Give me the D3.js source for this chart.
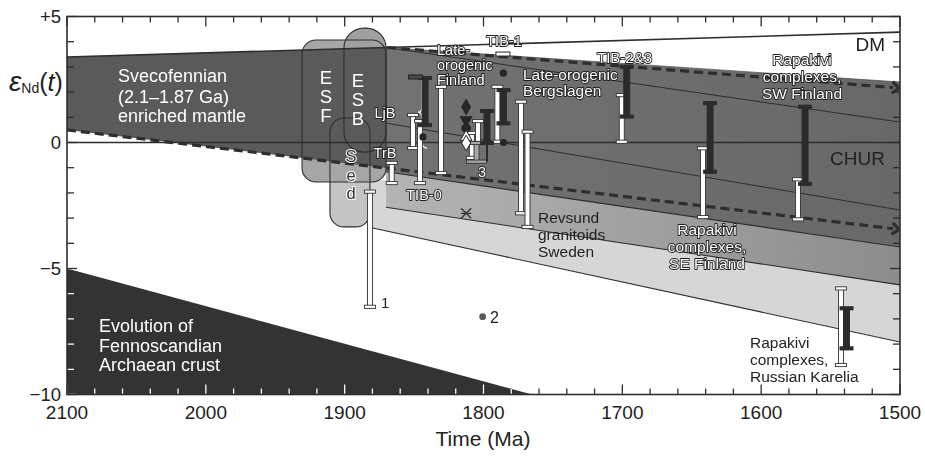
<!DOCTYPE html>
<html><head><meta charset="utf-8">
<script src="https://cdn.jsdelivr.net/npm/d3@7/dist/d3.min.js"></script>
<style>body{margin:0;background:#fff}svg{display:block;font-family:"Liberation Sans",Arial,Helvetica,sans-serif}</style>
</head><body><svg id="c" width="925" height="457"></svg>
<script>
// ---------- data (age in Ma, epsilon Nd) ----------
const xTickValues = [2100,2000,1900,1800,1700,1600,1500];
const xTickLabels = ["2100","2000","1900","1800","1700","1600","1500"];
const yTickValues = [5,0,-5,-10];
const yTickLabels = ["+5","0","\u22125","\u221210"];

const dmLine      = [[2100,3.39],[1500,4.38]];
const churLine    = [[2100,0],[1500,0]];
const upperDashed = [[1869.5,3.77],[1505,2.18]];
const lowerDashed = [[2100,0.50],[1505,-3.42]];
const thinLine1   = [[1870.2,3.77],[1500,0.81]];
const thinLine2   = [[1870.2,0.77],[1500,-2.68]];
const bandTop     = [[1870.2,3.77],[1500,2.40]];
const boundAB     = [[1870.2,-1.16],[1500,-4.15]];
const boundBC     = [[1870.2,-2.57],[1500,-5.65]];
const boundLow    = [[1883.2,-3.35],[1500,-7.92]];
const archaean    = [[2100,-5],[1765,-10],[2100,-10]];
const mantleBand  = [[2100,3.39],[1870.2,3.77],[1870.2,-1.01],[2100,0.50]];

const cylinders = [
  {name:"Sed", t0:1910.6, t1:1881.8, top:0.97, bot:-3.35},
  {name:"ESF", t0:1930.7, t1:1870.2, top:4.07, bot:-1.57},
  {name:"ESB", t0:1900.5, t1:1870.2, top:4.54, bot:-0.38}
];

const whiteBars = [
  {t:1881.8, lo:-6.52, hi:-1.95},
  {t:1866.1, lo:-1.61, hi:-0.81},
  {t:1850.8, lo:-0.22, hi:1.09},
  {t:1845.7, lo:-1.61, hi:0.85},
  {t:1830.6, lo:-1.21, hi:2.21},
  {t:1808.4, lo:-0.61, hi:0.38},
  {t:1804.0, lo:-0.02, hi:0.85},
  {t:1790.0, lo:0.03,  hi:2.21},
  {t:1773.0, lo:-2.81, hi:1.62},
  {t:1768.3, lo:-3.35, hi:0.43},
  {t:1700.4, lo:0.03,  hi:1.88},
  {t:1641.9, lo:-2.96, hi:-0.23},
  {t:1573.5, lo:-3.05, hi:-1.46},
  {t:1542.5, lo:-8.83, hi:-5.79}
];
const grayBars = [{t:1805.0, lo:-0.76, hi:-0.02}];
const blackBars = [
  {t:1842.1, lo:0.69,  hi:2.56},
  {t:1797.5, lo:-0.02, hi:1.25},
  {t:1785.6, lo:0.76,  hi:2.08},
  {t:1696.8, lo:1.03,  hi:3.01},
  {t:1636.8, lo:-1.16, hi:1.56},
  {t:1568.4, lo:-1.64, hi:1.42},
  {t:1538.5, lo:-8.17, hi:-6.58}
];
const thinBars = [{t:1797.5, lo:-0.76, hi:-0.02}];
const darkMarks  = [{t:1849.0, e:2.60}];
const whiteMarks = [{t:1786.0, e:3.51}];
const blackDots = [{t:1843.6, e:0.22},{t:1785.7, e:2.75},{t:1785.6, e:0.0}];
const grayDots  = [{t:1800.6, e:-6.91}];
const symbolStack = [
  {t:1812.5, e:1.41,  kind:"diamond",  filled:true},
  {t:1812.5, e:0.89,  kind:"down",     filled:true},
  {t:1812.5, e:0.57,  kind:"circle",   filled:true},
  {t:1812.5, e:0.22,  kind:"up",       filled:false},
  {t:1812.5, e:-0.02, kind:"diamond",  filled:false}
];
const crosses = [{t:1812.5, e:-2.81}];

// ---------- scales ----------
const svg = d3.select("#c");
const x = d3.scaleLinear().domain([2100,1500]).range([67,900]);
const y = d3.scaleLinear().domain([-10,5]).range([394.5,16.5]);
const line = d3.line().x(d=>x(d[0])).y(d=>y(d[1]));
const poly = pts => "M" + pts.map(d=>x(d[0])+","+y(d[1])).join("L") + "Z";

const defs = svg.append("defs");
const gA = defs.append("linearGradient").attr("id","gA").attr("gradientUnits","userSpaceOnUse")
  .attr("x1",x(1870)).attr("x2",x(1500)).attr("y1",0).attr("y2",0);
gA.append("stop").attr("offset",0).attr("stop-color","#727272");
gA.append("stop").attr("offset",1).attr("stop-color","#686868");
const gB = defs.append("linearGradient").attr("id","gB").attr("gradientUnits","userSpaceOnUse")
  .attr("x1",x(1870)).attr("x2",x(1500)).attr("y1",0).attr("y2",0);
gB.append("stop").attr("offset",0).attr("stop-color","#b4b4b4");
gB.append("stop").attr("offset",1).attr("stop-color","#8c8c8c");
defs.append("clipPath").attr("id","archClip").append("path").attr("d",poly(archaean));
defs.append("clipPath").attr("id","plotClip").append("rect")
  .attr("x",x(2100)).attr("y",y(5)).attr("width",x(1500)-x(2100)).attr("height",y(-10)-y(5));

const plot = svg.append("g").attr("clip-path","url(#plotClip)");

// Archaean crust
plot.append("path").attr("d",poly(archaean)).attr("fill","#333");

// evolution bands (right part)
const regionC = [[1882,-1.5],[1870.2,-1.5],boundBC[0],boundBC[1],boundLow[1],boundLow[0]];
plot.append("path").attr("d",poly(regionC)).attr("fill","#d6d6d6");
plot.append("path").attr("d",poly([boundAB[0],boundAB[1],boundBC[1],boundBC[0]])).attr("fill","url(#gB)");
plot.append("path").attr("d",poly([bandTop[0],bandTop[1],boundAB[1],boundAB[0]])).attr("fill","url(#gA)");

// cylinder fills
const cylFill = {Sed:"#c4c4c4", ESF:"#a6a6a6", ESB:"#a0a0a0"};
const cylR = {Sed:14, ESF:14, ESB:20};
function cylRect(sel, c){
  return sel.attr("x",x(c.t0)).attr("y",y(c.top)).attr("width",x(c.t1)-x(c.t0))
    .attr("height",y(c.bot)-y(c.top)).attr("rx",cylR[c.name]).attr("ry",cylR[c.name]);
}
cylinders.forEach(c=>cylRect(plot.append("rect"),c).attr("fill",cylFill[c.name]));

// enriched mantle band
plot.append("path").attr("d",poly(mantleBand)).attr("fill","#5a5a5a");

// cylinder outlines
cylinders.forEach(c=>cylRect(plot.append("rect"),c).attr("fill","none").attr("stroke","#2e2e2e").attr("stroke-width",1.1));

// lines
const ln = (data,w,dash,col)=>plot.append("path").attr("d",line(data)).attr("fill","none")
   .attr("stroke",col||"#2e2e2e").attr("stroke-width",w).attr("stroke-dasharray",dash||null);
ln(boundLow,1.1); ln(boundBC,1.1); ln(boundAB,1.1);
ln(thinLine1,1); ln(thinLine2,1);
ln(bandTop,0.8,null,"#555");
ln(churLine,1.6); ln(dmLine,1.6);
ln(upperDashed,3.2,"9,5"); ln(lowerDashed,3.2,"9,5");
// arrow heads
[upperDashed,lowerDashed].forEach(L=>{
  const p1=[x(L[0][0]),y(L[0][1])], p2=[x(L[1][0]),y(L[1][1])];
  const a=Math.atan2(p2[1]-p1[1],p2[0]-p1[0]);
  const tip=[p2[0]+6*Math.cos(a),p2[1]+6*Math.sin(a)];
  const arm=(s)=>[tip[0]-9*Math.cos(a+s),tip[1]-9*Math.sin(a+s)];
  const A=arm(0.7),B=arm(-0.7);
  plot.append("path").attr("d",`M${A}L${tip}L${B}`).attr("fill","none")
    .attr("stroke","#2e2e2e").attr("stroke-width",3.2).attr("stroke-linejoin","miter");
});

// brace for LjB
const bx = x(1844.3), bt=y(2.62), bb=y(-0.22), bm=(bt+bb)/2;
plot.append("path").attr("d",
  `M${bx+5},${bt} Q${bx},${bt} ${bx},${bt+6} L${bx},${bm-6} Q${bx},${bm} ${bx-4},${bm} Q${bx},${bm} ${bx},${bm+6} L${bx},${bb-6} Q${bx},${bb} ${bx+5},${bb}`)
  .attr("fill","none").attr("stroke","#eeeeee").attr("stroke-width",1.4);

// bars
const marks = svg.append("g");
function bar(d, w, cw, fill, stroke){
  const cx=x(d.t), y1=y(d.hi), y2=y(d.lo);
  marks.append("rect").attr("x",cx-w/2).attr("y",y1).attr("width",w).attr("height",Math.max(0,y2-y1))
    .attr("fill",fill).attr("stroke",stroke).attr("stroke-width",0.9);
  [y1,y2].forEach(yy=>marks.append("rect").attr("x",cx-cw/2).attr("y",yy-1.6).attr("width",cw).attr("height",3.2)
    .attr("fill",fill).attr("stroke",stroke).attr("stroke-width",0.9));
}
whiteBars.forEach(d=>bar(d,5,11,"#fff","#333"));
grayBars.forEach(d=>bar(d,5,20,"#a8a8a8","#333"));
thinBars.forEach(d=>marks.append("line").attr("x1",x(d.t)).attr("x2",x(d.t)).attr("y1",y(d.hi)).attr("y2",y(d.lo))
  .attr("stroke","#2b2b2b").attr("stroke-width",2));
blackBars.forEach(d=>bar(d,6,13,"#2b2b2b","#2b2b2b"));
darkMarks.forEach(d=>marks.append("rect").attr("x",x(d.t)-7).attr("y",y(d.e)-2).attr("width",14).attr("height",4)
  .attr("fill","#4a4a4a").attr("stroke","#222").attr("stroke-width",1));
whiteMarks.forEach(d=>marks.append("rect").attr("x",x(d.t)-7).attr("y",y(d.e)-2).attr("width",14).attr("height",4)
  .attr("fill","#fff").attr("stroke","#222").attr("stroke-width",1));
blackDots.forEach(d=>marks.append("circle").attr("cx",x(d.t)).attr("cy",y(d.e)).attr("r",3.6).attr("fill","#262626"));
grayDots.forEach(d=>marks.append("circle").attr("cx",x(d.t)).attr("cy",y(d.e)).attr("r",3.4).attr("fill","#5a5a5a"));
const symType = {diamond:d3.symbolDiamond, down:d3.symbolTriangle, up:d3.symbolTriangle, circle:d3.symbolCircle};
symbolStack.forEach(d=>{
  marks.append("path").attr("d",d3.symbol().type(symType[d.kind]).size(d.kind==="diamond"?70:60)())
    .attr("transform",`translate(${x(d.t)},${y(d.e)})${d.kind==="down"?" rotate(180)":""}`)
    .attr("fill",d.filled?"#262626":"#fff").attr("stroke","#262626").attr("stroke-width",1);
});
crosses.forEach(d=>{
  const cx=x(d.t), cy=y(d.e);
  marks.append("path").attr("d",`M${cx-5},${cy-5}L${cx+5},${cy+5}M${cx-5},${cy+5}L${cx+5},${cy-5}M${cx-5},${cy}L${cx+5},${cy}`)
    .attr("stroke","#333").attr("stroke-width",1.3);
});

// ---------- text ----------
const txt = svg.append("g").style("filter","grayscale(1)");
function T(str, px, py, size, anchor, style){
  const t = txt.append("text").attr("x",px).attr("y",py).attr("font-size",size)
    .attr("text-anchor",anchor||"start").attr("dominant-baseline","central").text(str);
  if(style==="white") t.attr("fill","#fff");
  else if(style==="outline") t.attr("fill","#fff").attr("stroke","#1e1e1e").attr("stroke-width",1.8)
      .attr("paint-order","stroke").attr("stroke-linejoin","round");
  else if(style==="halo") t.attr("fill","#333").attr("stroke","#fff").attr("stroke-width",2)
      .attr("paint-order","stroke").attr("stroke-linejoin","round");
  else t.attr("fill","#222");
  return t;
}
function lines(arr, px, pys, size, anchor, style){ arr.forEach((s,i)=>T(s,px,pys[i],size,anchor,style)); }

lines(["Svecofennian","(2.1\u20131.87 Ga)","enriched mantle"], 118, [76,96.5,116], 18, "start", "white");
lines(["Evolution of","Fennoscandian","Archaean crust"], 99, [326,345.5,365], 18, "start", "white");
lines(["E","S","F"], 326, [77,96,115], 18.5, "middle", "white");
lines(["E","S","B"], 358, [80,99,118], 18.5, "middle", "white");
lines(["S","e","d"], 351, [156,174.5,193], 16.5, "middle", "halo");
T("LjB", 385, 113, 14.5, "middle", "outline");
T("TrB", 385, 153, 14.5, "middle", "outline");
T("TIB-0", 424, 195, 14.5, "middle", "outline");
T("TIB-1", 504, 41, 14.5, "middle", "outline");
T("3", 482, 172, 14.5, "middle", "outline");
lines(["Late-","orogenic","Finland"], 437, [50,65,80], 14.5, "start", "outline");
lines(["Late-orogenic","Bergslagen"], 523, [74,90], 15.5, "start", "outline");
T("TIB-2&3", 597, 57, 15, "start", "outline");
lines(["Rapakivi","complexes,","SW Finland"], 802, [59,76,93], 15.5, "middle", "outline");
lines(["Rapakivi","complexes,","SE Finland"], 707, [229,246,263], 15.5, "middle", "outline");
lines(["Revsund","granitoids","Sweden"], 538, [217,234,251], 15.5, "start", "dark");
lines(["Rapakivi","complexes,","Russian Karelia"], 750, [342,359,376], 15.5, "start", "dark");
T("DM", 885, 44, 19, "end", "dark");
T("CHUR", 885, 158, 19, "end", "dark");
T("1", 381, 302, 15, "start", "dark");
T("2", 490, 317, 16, "start", "dark");

// ---------- axes ----------
const ax = svg.append("g");
function ticks(col, clip){
  const g = ax.append("g").attr("stroke",col).attr("stroke-width",1.3);
  if(clip) g.attr("clip-path","url(#archClip)");
  for(let t=2100;t>=1500;t-=20){
    const L = (t%100===0)?10:6;
    g.append("line").attr("x1",x(t)).attr("x2",x(t)).attr("y1",y(-10)).attr("y2",y(-10)-L);
    g.append("line").attr("x1",x(t)).attr("x2",x(t)).attr("y1",y(5)).attr("y2",y(5)+L);
  }
  for(let e=-10;e<=5;e++){
    const L = (e%5===0)?10:7;
    g.append("line").attr("x1",x(2100)).attr("x2",x(2100)+L).attr("y1",y(e)).attr("y2",y(e));
    g.append("line").attr("x1",x(1500)).attr("x2",x(1500)-L).attr("y1",y(e)).attr("y2",y(e));
  }
}
ticks("#2e2e2e",false);
ticks("#ffffff",true);
ax.append("rect").attr("x",x(2100)).attr("y",y(5)).attr("width",x(1500)-x(2100)).attr("height",y(-10)-y(5))
  .attr("fill","none").attr("stroke","#2e2e2e").attr("stroke-width",1.6);

xTickValues.forEach((v,i)=>ax.append("text").attr("x",x(v)).attr("y",412).attr("font-size",19)
  .attr("text-anchor","middle").attr("dominant-baseline","central").attr("fill","#222").text(xTickLabels[i]));
yTickValues.forEach((v,i)=>ax.append("text").attr("x",61).attr("y",y(v)).attr("font-size",18.5)
  .attr("text-anchor","end").attr("dominant-baseline","central").attr("fill","#222").text(yTickLabels[i]));
ax.append("text").attr("x",483).attr("y",438).attr("font-size",21).attr("text-anchor","middle")
  .attr("dominant-baseline","central").attr("fill","#222").text("Time (Ma)");
const yl = ax.append("text").attr("x",9).attr("y",91).attr("font-size",25).attr("fill","#222");
yl.append("tspan").attr("font-style","italic").attr("font-size",28).text("\u03b5");
yl.append("tspan").attr("font-size",14).attr("dy",2).text("Nd");
yl.append("tspan").attr("dy",-2).text("(");
yl.append("tspan").attr("font-style","italic").text("t");
yl.append("tspan").text(")");
</script></body></html>
